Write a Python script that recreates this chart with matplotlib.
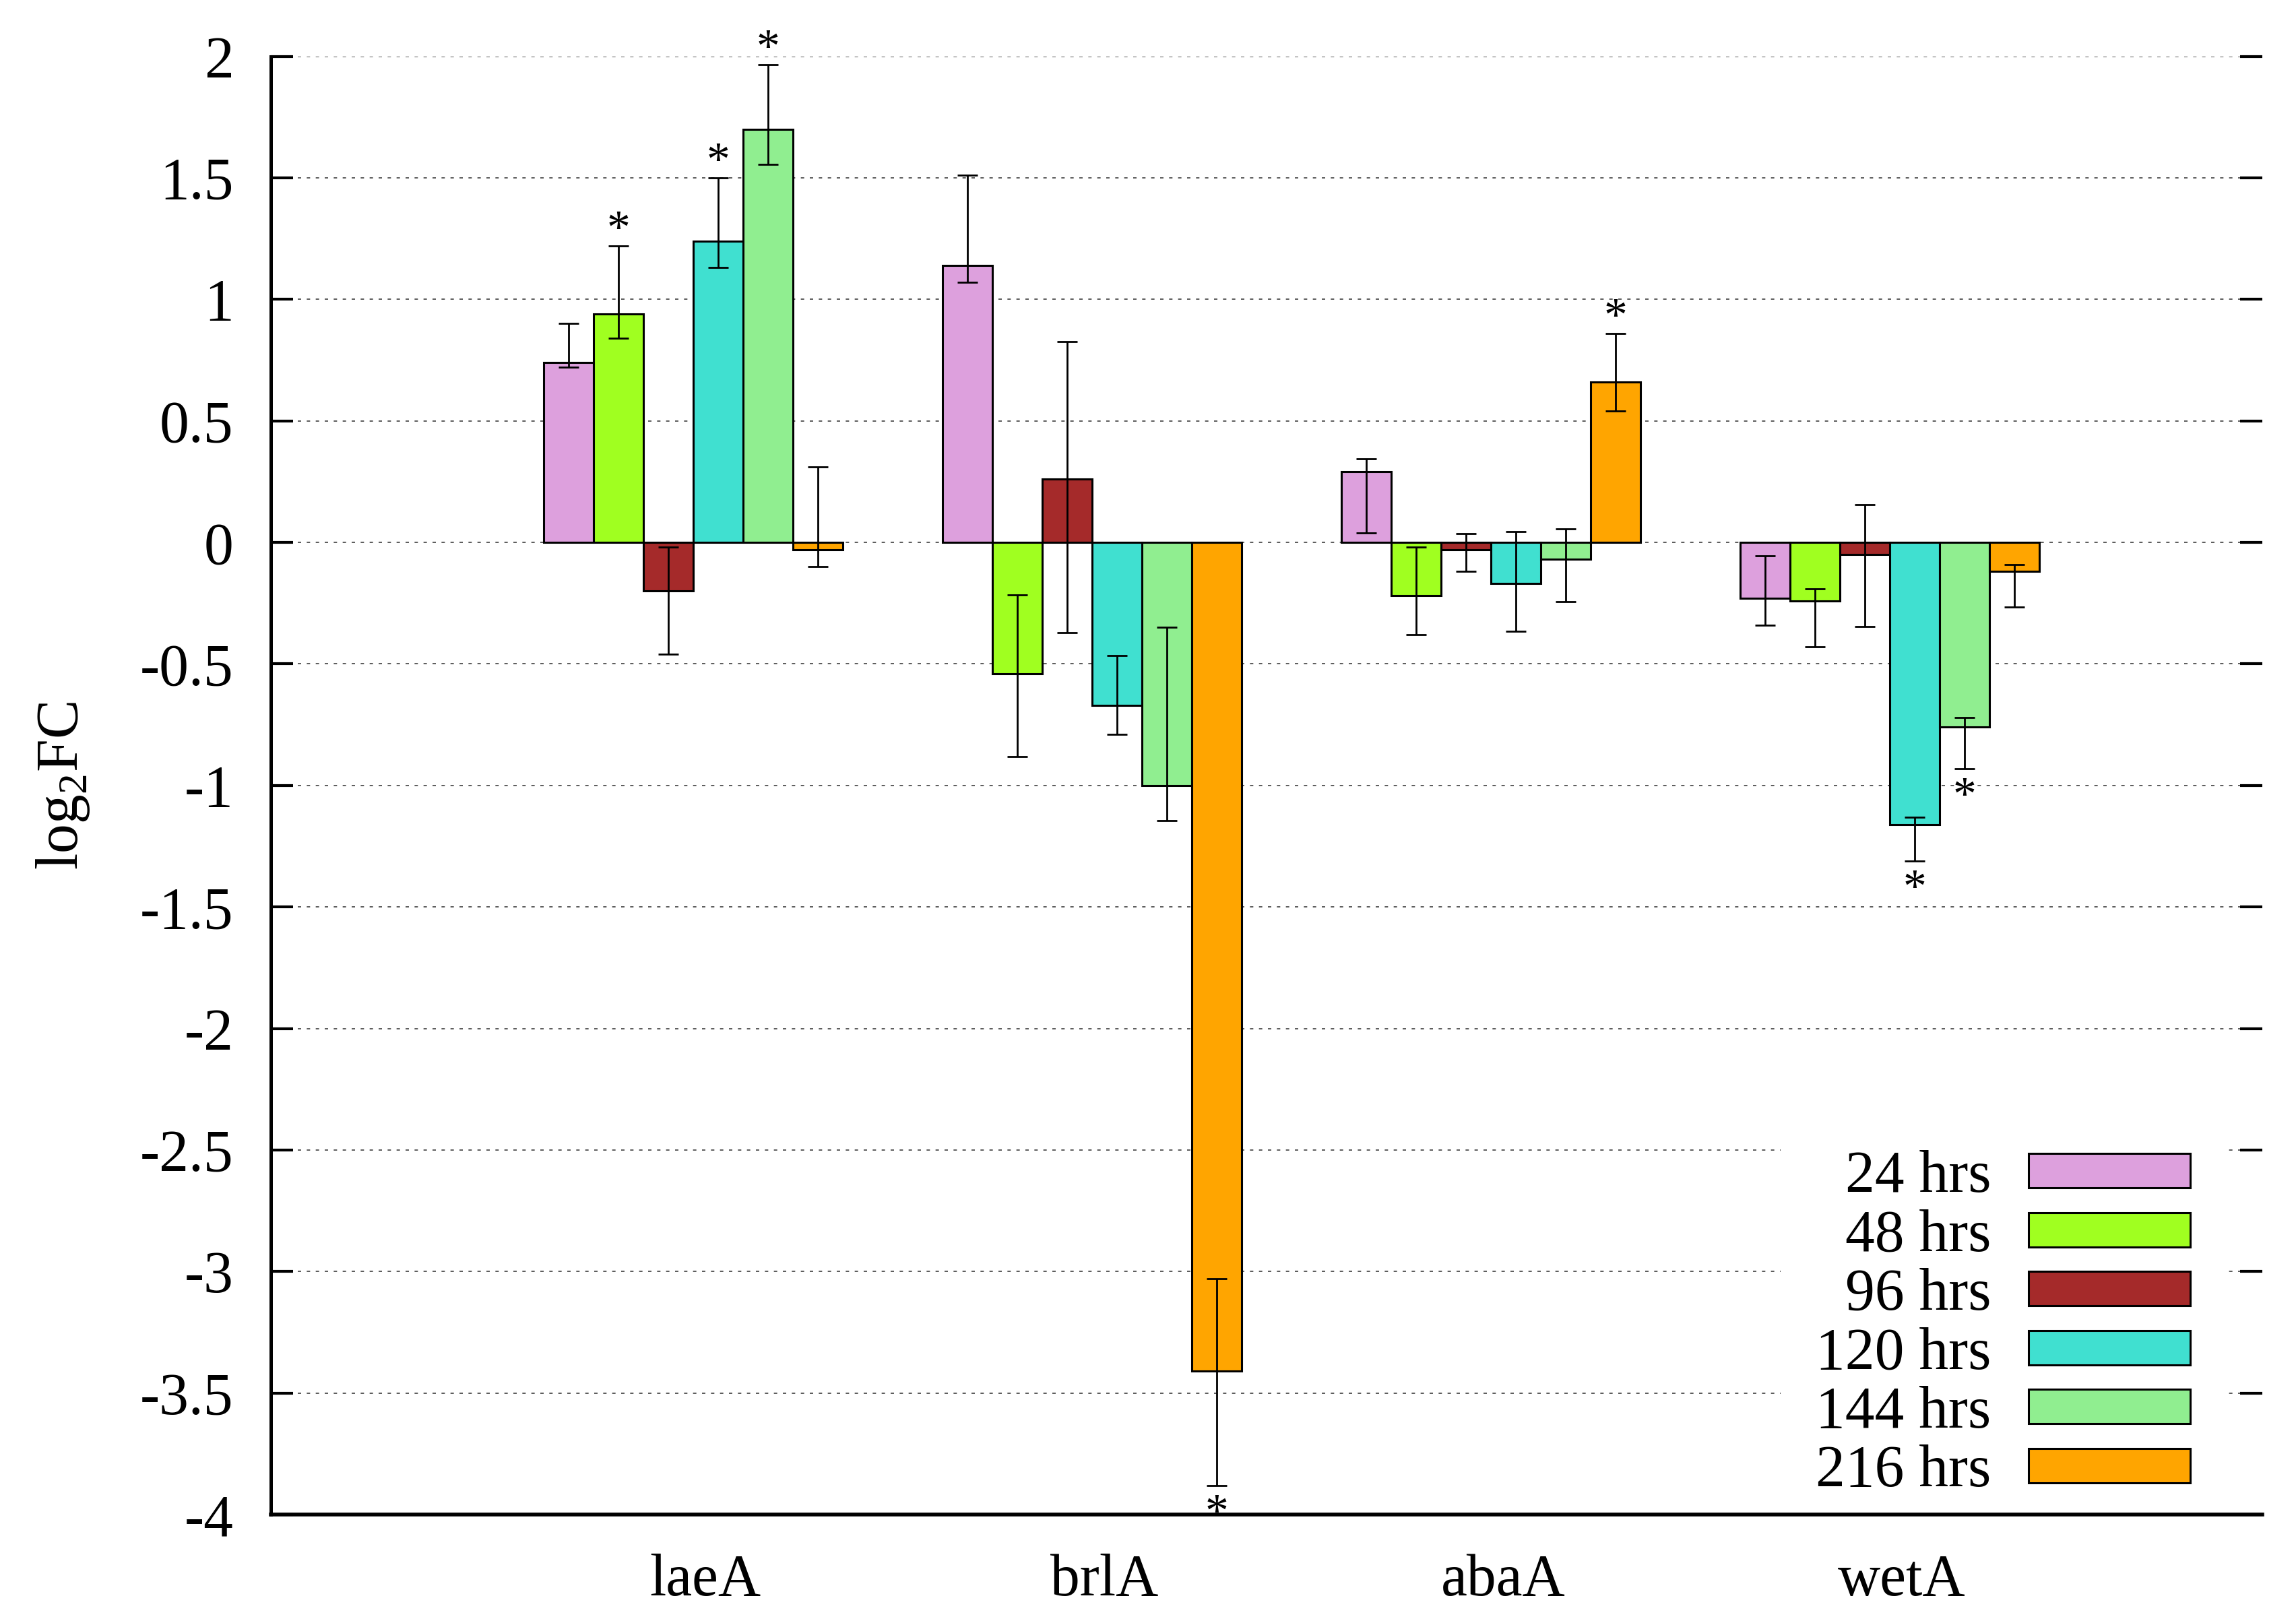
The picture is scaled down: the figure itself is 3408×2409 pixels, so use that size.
import matplotlib
matplotlib.use("Agg")
import matplotlib.pyplot as plt
import numpy as np

genes = ["laeA", "brlA", "abaA", "wetA"]
times = ["24 hrs", "48 hrs", "96 hrs", "120 hrs", "144 hrs", "216 hrs"]
colors = ["#dda0dd", "#a0ff20", "#a52a2a", "#40e0d0", "#90ee90", "#ffa500"]

# log2FC per time point, one value per gene
fc = [
    [0.74, 1.14, 0.29, -0.23],
    [0.94, -0.54, -0.22, -0.24],
    [-0.20, 0.26, -0.03, -0.05],
    [1.24, -0.67, -0.17, -1.16],
    [1.70, -1.00, -0.07, -0.76],
    [-0.03, -3.41, 0.66, -0.12],
]
# error bar ends (absolute values)
err_lo = [
    [0.72, 1.07, 0.04, -0.34],
    [0.84, -0.88, -0.38, -0.43],
    [-0.46, -0.37, -0.12, -0.345],
    [1.13, -0.79, -0.365, -1.31],
    [1.555, -1.145, -0.245, -0.93],
    [-0.10, -3.88, 0.54, -0.265],
]
err_hi = [
    [0.90, 1.51, 0.345, -0.055],
    [1.22, -0.215, -0.02, -0.19],
    [-0.02, 0.825, 0.035, 0.155],
    [1.50, -0.465, 0.045, -1.13],
    [1.965, -0.35, 0.055, -0.72],
    [0.31, -3.03, 0.86, -0.09],
]
# significance marks: (time index, gene index)
stars = [(1, 0), (3, 0), (4, 0), (5, 1), (5, 2), (3, 3), (4, 3)]

plt.rcParams["font.family"] = ["Liberation Serif", "DejaVu Serif"]
plt.rcParams["mathtext.fontset"] = "custom"
plt.rcParams["mathtext.rm"] = "Liberation Serif"
plt.rcParams["axes.unicode_minus"] = False

fs = 31.5
fig = plt.figure(figsize=(17.04, 12.045), dpi=200)
ax = fig.add_axes([0.118, 0.0668, 0.8674, 0.8985])

x = np.arange(len(genes))
w = 0.125
for i, t in enumerate(times):
    xs = x + (i - 2.5) * w
    vals = np.array(fc[i])
    lo = vals - np.array(err_lo[i])
    hi = np.array(err_hi[i]) - vals
    ax.bar(xs, vals, w, color=colors[i], edgecolor="black", linewidth=1.1,
           label=t, zorder=2)
    ax.errorbar(xs, vals, yerr=[lo, hi], fmt="none", ecolor="black",
                elinewidth=1.0, capsize=5.5, capthick=1.0, zorder=3)

for i, g in stars:
    xs = x[g] + (i - 2.5) * w
    if fc[i][g] >= 0:
        ax.text(xs, err_hi[i][g] + 0.06, "*", ha="center", va="center", fontsize=25)
    else:
        ax.text(xs, err_lo[i][g] - 0.12, "*", ha="center", va="center", fontsize=25)

ax.set_xlim(-1.059, 3.934)
ax.set_ylim(-4, 2)
ax.set_yticks(np.arange(-4, 2.01, 0.5))
ax.set_yticklabels(["%g" % v for v in np.arange(-4, 2.01, 0.5)])
ax.set_xticks(x + 0.03)
ax.set_xticklabels(genes)

ax.tick_params(axis="y", direction="in", length=12, width=1.5, pad=20,
               labelsize=fs, right=True)
ax.tick_params(axis="x", length=0, pad=21, labelsize=fs)

ax.spines["top"].set_visible(False)
ax.spines["right"].set_visible(False)
ax.spines["left"].set_linewidth(1.8)
ax.spines["bottom"].set_linewidth(2.0)

ax.yaxis.grid(True, linestyle=(0, (3, 5)), color="0.25", linewidth=0.6)
ax.set_axisbelow(True)

ax.set_ylabel("log$_2$FC", fontsize=fs, labelpad=26)

leg = ax.legend(loc="lower right", bbox_to_anchor=(0.9964, -0.034), fontsize=fs,
                markerfirst=False, handlelength=2.75, handleheight=0.52,
                handletextpad=0.63, labelspacing=0.075, borderpad=0.6,
                fancybox=False, framealpha=1.0)
leg.get_frame().set_edgecolor("none")
leg.get_frame().set_facecolor("white")
leg.set_zorder(2.4)

fig.savefig("out.png", dpi=200)
